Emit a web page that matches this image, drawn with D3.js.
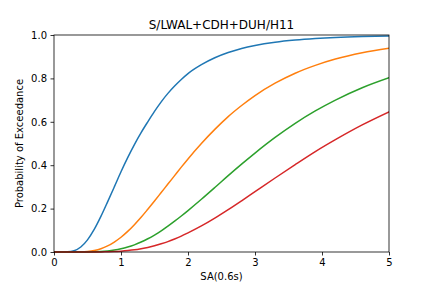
<!DOCTYPE html>
<html>
<head>
<meta charset="utf-8">
<script src="https://cdn.jsdelivr.net/npm/d3@7"></script>
<style>
  html, body { margin: 0; padding: 0; background: #fff; }
  svg { display: block; font-family: "DejaVu Sans", sans-serif; }
</style>
</head>
<body>
<svg id="chart" width="432" height="288"></svg>
<script>
const title = "S/LWAL+CDH+DUH/H11";
const xLabel = "SA(0.6s)";
const yLabel = "Probability of Exceedance";
const xTicks = [0, 1, 2, 3, 4, 5];
const yTicks = [0, 0.2, 0.4, 0.6, 0.8, 1.0];

const sa = [0, 0.1, 0.2, 0.3, 0.4, 0.5, 0.6, 0.7, 0.8, 0.9, 1.0, 1.1, 1.2, 1.3, 1.4, 1.5, 1.6, 1.7, 1.8, 1.9, 2.0, 2.2, 2.4, 2.6, 2.8, 3.0, 3.3, 3.6, 3.9, 4.2, 4.6, 5.0];
const series1 = [0, 0, 0.0006, 0.006, 0.023, 0.056, 0.104, 0.164, 0.231, 0.300, 0.370, 0.435, 0.495, 0.550, 0.600, 0.648, 0.692, 0.731, 0.765, 0.795, 0.822, 0.863, 0.895, 0.919, 0.938, 0.952, 0.967, 0.977, 0.984, 0.989, 0.993, 0.995];
const series2 = [0, 0, 0, 0.0001, 0.0006, 0.0026, 0.007, 0.015, 0.028, 0.046, 0.068, 0.095, 0.126, 0.160, 0.197, 0.235, 0.274, 0.313, 0.352, 0.391, 0.429, 0.500, 0.565, 0.624, 0.675, 0.721, 0.778, 0.824, 0.860, 0.889, 0.918, 0.939];
const series3 = [0, 0, 0, 0, 0, 0.0002, 0.0008, 0.002, 0.0047, 0.0087, 0.0146, 0.0227, 0.033, 0.046, 0.061, 0.078, 0.097, 0.119, 0.142, 0.166, 0.191, 0.243, 0.297, 0.352, 0.405, 0.456, 0.528, 0.593, 0.650, 0.700, 0.757, 0.803];
const series4 = [0, 0, 0, 0, 0, 0, 0, 0.0004, 0.001, 0.002, 0.004, 0.0066, 0.010, 0.015, 0.021, 0.029, 0.038, 0.048, 0.060, 0.073, 0.088, 0.120, 0.156, 0.195, 0.236, 0.278, 0.341, 0.403, 0.463, 0.518, 0.586, 0.646];
const colors = ["#1f77b4", "#ff7f0e", "#2ca02c", "#d62728"];

const svg = d3.select("#chart");
const margin = { left: 54, right: 43, top: 35, bottom: 36 };
const W = 432, H = 288;
const x = d3.scaleLinear().domain([0, 5]).range([margin.left, W - margin.right]);
const y = d3.scaleLinear().domain([0, 1]).range([H - margin.bottom, margin.top]);

const allSeries = [series1, series2, series3, series4];

svg.append("defs").append("clipPath").attr("id", "clip")
  .append("rect")
  .attr("x", x(0)).attr("y", y(1) - 1)
  .attr("width", x(5) - x(0)).attr("height", y(0) - y(1) + 2);

const line = d3.line().x(d => x(d[0])).y(d => y(d[1])).curve(d3.curveMonotoneX);
const g = svg.append("g").attr("clip-path", "url(#clip)");
allSeries.forEach((s, i) => {
  g.append("path")
    .datum(sa.map((v, j) => [v, s[j]]))
    .attr("fill", "none")
    .attr("stroke", colors[i])
    .attr("stroke-width", 1.5)
    .attr("stroke-linejoin", "round")
    .attr("stroke-linecap", "square")
    .attr("d", line);
});

const xAxis = d3.axisBottom(x).tickValues(xTicks).tickFormat(d3.format("d")).tickSize(3.5).tickPadding(3.5);
const yAxis = d3.axisLeft(y).tickValues(yTicks).tickFormat(d3.format(".1f")).tickSize(3.5).tickPadding(3.5);

const gx = svg.append("g").attr("transform", `translate(0,${y(0)})`).call(xAxis);
const gy = svg.append("g").attr("transform", `translate(${x(0)},0)`).call(yAxis);
[gx, gy].forEach(a => {
  a.select(".domain").remove();
  a.selectAll(".tick line").attr("stroke", "#000").attr("stroke-width", 0.8);
  a.selectAll(".tick text").attr("font-size", 10).attr("fill", "#000").attr("font-family", "DejaVu Sans");
});

// frame
svg.append("rect")
  .attr("x", x(0)).attr("y", y(1))
  .attr("width", x(5) - x(0)).attr("height", y(0) - y(1))
  .attr("fill", "none").attr("stroke", "#000").attr("stroke-width", 0.8);

svg.append("text")
  .attr("x", (x(0) + x(5)) / 2).attr("y", y(1) - 6)
  .attr("text-anchor", "middle").attr("font-size", 12).attr("fill", "#000")
  .text(title);

svg.append("text")
  .attr("x", (x(0) + x(5)) / 2).attr("y", 280)
  .attr("text-anchor", "middle").attr("font-size", 10).attr("fill", "#000")
  .text(xLabel);

svg.append("text")
  .attr("transform", `translate(23,${(y(0) + y(1)) / 2}) rotate(-90)`)
  .attr("text-anchor", "middle").attr("font-size", 10).attr("fill", "#000")
  .text(yLabel);
</script>
</body>
</html>
